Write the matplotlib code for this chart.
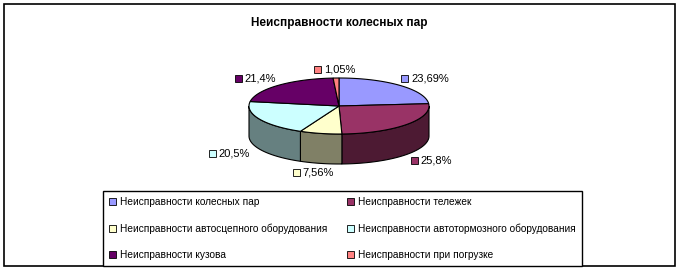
import numpy as np
import matplotlib
matplotlib.use('Agg')
import matplotlib.pyplot as plt
from matplotlib.colors import to_rgb
from matplotlib.patches import Polygon, Rectangle, Patch
from matplotlib.offsetbox import AnnotationBbox, HPacker, TextArea, DrawingArea

title = 'Неисправности колесных пар'
categories = ['Неисправности колесных пар', 'Неисправности тележек',
              'Неисправности автосцепного оборудования',
              'Неисправности автотормозного оборудования',
              'Неисправности кузова', 'Неисправности при погрузке']
values = [23.69, 25.8, 7.56, 20.5, 21.4, 1.05]
colors = ['#9999FF', '#993366', '#FFFFCC', '#CCFFFF', '#660066', '#FF8080']

plt.rcParams['font.family'] = ['Liberation Sans', 'DejaVu Sans']

fig = plt.figure(figsize=(6.8, 2.72), dpi=100)
ax = fig.add_axes([0, 0, 1, 1])
ax.set_xlim(0, 680)
ax.set_ylim(272, 0)
ax.axis('off')

# рамка области диаграммы
ax.add_patch(Rectangle((4, 4), 671, 262, fill=False, ec='black', lw=1.2))

ax.text(339, 23, title, ha='center', va='center', fontsize=8.5, fontweight='bold')

# геометрия объемной круговой диаграммы
cx, cy, a, b, depth = 339, 106, 90, 28, 30


def pt(theta, dy=0.0):
    t = np.radians(theta)
    return cx + a * np.sin(t), cy - b * np.cos(t) + dy


def darken(c):
    return tuple(0.5 * v for v in to_rgb(c))


fractions = np.array(values) / sum(values)
bounds = np.concatenate([[0], np.cumsum(fractions) * 360])

# боковые стенки (видна только передняя половина)
for i, (t0, t1) in enumerate(zip(bounds[:-1], bounds[1:])):
    lo, hi = max(t0, 90), min(t1, 270)
    if hi > lo:
        th = np.linspace(lo, hi, 80)
        poly = [pt(t) for t in th] + [pt(t, depth) for t in th[::-1]]
        ax.add_patch(Polygon(poly, closed=True, fc=darken(colors[i]), ec='black', lw=0.8))

# верхняя грань
for i, (t0, t1) in enumerate(zip(bounds[:-1], bounds[1:])):
    th = np.linspace(t0, t1, max(int(t1 - t0), 2) + 1)
    poly = [(cx, cy)] + [pt(t) for t in th]
    ax.add_patch(Polygon(poly, closed=True, fc=colors[i], ec='black', lw=0.8))

# подписи значений
for i, (t0, t1) in enumerate(zip(bounds[:-1], bounds[1:])):
    mid = np.radians((t0 + t1) / 2)
    s, c = np.sin(mid), np.cos(mid)
    x = cx + a * 1.15 * s
    y = cy - b * 1.32 * c + (depth if c < 0 else 0)
    da = DrawingArea(5, 5, 0, 0)
    da.add_artist(Rectangle((0, 0), 5, 5, fc=colors[i], ec='black', lw=0.6))
    txt = TextArea(str(values[i]).replace('.', ',') + '%', textprops=dict(size=8))
    box = HPacker(children=[da, txt], align='center', pad=0, sep=2)
    ax.add_artist(AnnotationBbox(box, (x, y), xycoords='data',
                                 box_alignment=(0.5 * (1 - s), 0.5),
                                 frameon=False, pad=0))

# легенда: две колонки, заполнение по строкам
order = [0, 2, 4, 1, 3, 5]
handles = [Patch(fc=colors[i], ec='black', lw=0.6, label=categories[i]) for i in order]
leg = fig.legend(handles=handles, ncol=2, loc='upper left',
                 bbox_to_anchor=(103 / 680, 1 - 191 / 272),
                 fancybox=False, edgecolor='black', fontsize=7.3,
                 handlelength=0.7, handleheight=0.7, handletextpad=0.35,
                 labelspacing=1.6, columnspacing=2.0, borderpad=0.6,
                 borderaxespad=0)
leg.get_frame().set_linewidth(1.0)
leg.get_frame().set_alpha(None)

fig.savefig('out.png', dpi=100)
